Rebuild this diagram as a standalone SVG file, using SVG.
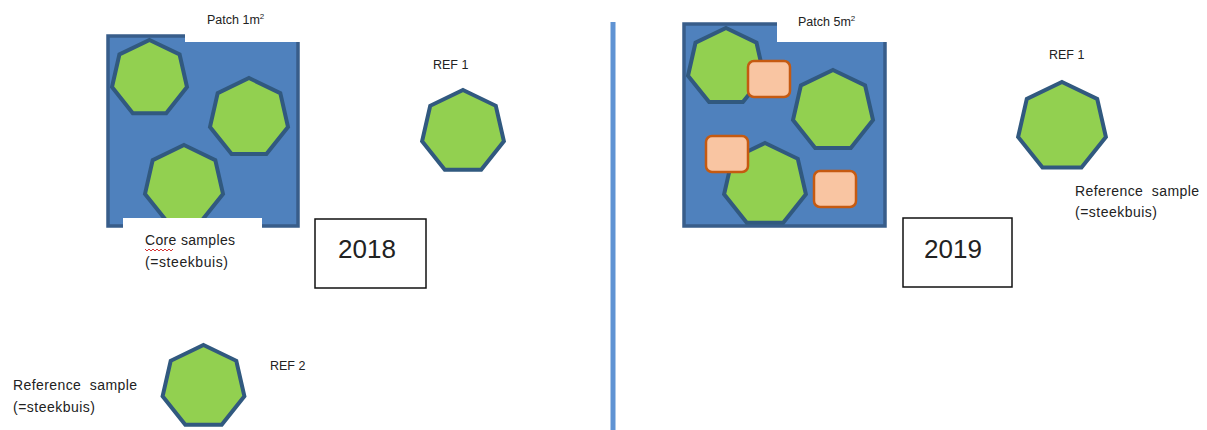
<svg xmlns="http://www.w3.org/2000/svg" width="1207" height="430" viewBox="0 0 1207 430">
<style>
.patch{fill:#4F81BD;stroke:#385D8A;stroke-width:3.5}
.hep{fill:#92D050;stroke:#31597F;stroke-width:4;stroke-linejoin:miter}
.sq{fill:#F9C5A2;stroke:#C55A11;stroke-width:2.5}
.wb{fill:#FFFFFF}
.t{font-family:"Liberation Sans",Arial,sans-serif;font-size:12.5px;fill:#222}
.s{font-family:"Liberation Sans",Arial,sans-serif;font-size:14px;fill:#222}
.yr{font-family:"Liberation Sans",Arial,sans-serif;font-size:26px;fill:#222;text-anchor:middle}
.box{fill:#FFFFFF;stroke:#111;stroke-width:1.5}
</style>
<rect width="1207" height="430" fill="#FFFFFF"/>

<g id="divider">
<line x1="613" y1="22" x2="613" y2="430" stroke="#5F93D3" stroke-width="5"/>
</g>

<!-- 2018 -->
<g id="patch-2018">
<rect class="patch" x="108" y="36" width="190" height="190"/>
<polygon class="hep" points="149.5,40 179.6,54.5 187,87.1 166.2,113.2 132.8,113.2 112,87.1 119.4,54.5"/>
<polygon class="hep" points="249,78 280.3,93.1 288,126.9 266.4,154 231.6,154 210,126.9 217.7,93.1"/>
<polygon class="hep" points="184,145 215.3,160.1 223,193.9 201.4,221 166.6,221 145,193.9 152.7,160.1"/>
<rect class="wb" x="185" y="0" width="118" height="42"/>
<rect class="wb" x="123" y="218" width="139" height="52"/>
<text class="t" x="207" y="24">Patch 1m<tspan font-size="8" dy="-5">2</tspan></text>
<text class="s" x="145" y="245" textLength="90">Core samples</text>
<path d="M145,249 l2,2 l2,-2 l2,2 l2,-2 l2,2 l2,-2 l2,2 l2,-2 l2,2 l2,-2 l2,2 l2,-2 l2,2 l2,-2" fill="none" stroke="#D02020" stroke-width="0.9"/>
<text class="s" x="145" y="267" textLength="83">(=steekbuis)</text>
</g>

<g id="ref1-2018">
<text class="t" x="433" y="69">REF 1</text>
<polygon class="hep" points="463,90 495.8,105.8 503.9,141.3 481.2,169.8 444.8,169.8 422.1,141.3 430.2,105.8"/>
</g>

<g id="ref2-2018">
<polygon class="hep" points="203.5,345 236.3,360.8 244.4,396.3 221.7,424.8 185.3,424.8 162.6,396.3 170.7,360.8"/>
<text class="t" x="270" y="370">REF 2</text>
<text class="s" x="13" y="390" xml:space="preserve" textLength="124">Reference  sample</text>
<text class="s" x="13" y="412" textLength="82">(=steekbuis)</text>
</g>

<g id="year-2018">
<rect class="box" x="315" y="219" width="111" height="69"/>
<text class="yr" x="367" y="258">2018</text>
</g>

<!-- 2019 -->
<g id="patch-2019">
<rect class="patch" x="684" y="24" width="201" height="202"/>
<rect class="wb" x="777" y="0" width="112" height="42"/>
<polygon class="hep" points="726,28 756.5,42.7 764,75.7 742.9,102.1 709.1,102.1 688,75.7 695.5,42.7"/>
<polygon class="hep" points="833,70 865.1,85.4 873,120.1 850.8,147.9 815.2,147.9 793,120.1 800.9,85.4"/>
<polygon class="hep" points="765,143 797.8,158.8 805.9,194.3 783.2,222.8 746.8,222.8 724.1,194.3 732.2,158.8"/>
<rect class="sq" x="748" y="61" width="42" height="36" rx="6"/>
<rect class="sq" x="706" y="136" width="42" height="36" rx="6"/>
<rect class="sq" x="814" y="171" width="42" height="36" rx="6"/>
<text class="t" x="798" y="26">Patch 5m<tspan font-size="8" dy="-5">2</tspan></text>
</g>

<g id="ref1-2019">
<text class="t" x="1049" y="59">REF 1</text>
<polygon class="hep" points="1062,82 1097.2,98.9 1105.9,137 1081.5,167.5 1042.5,167.5 1018.1,137 1026.8,98.9"/>
<text class="s" x="1075" y="196" xml:space="preserve" textLength="124">Reference  sample</text>
<text class="s" x="1075" y="217" textLength="82">(=steekbuis)</text>
</g>

<g id="year-2019">
<rect class="box" x="903" y="218" width="109" height="69"/>
<text class="yr" x="953" y="258">2019</text>
</g>
</svg>
